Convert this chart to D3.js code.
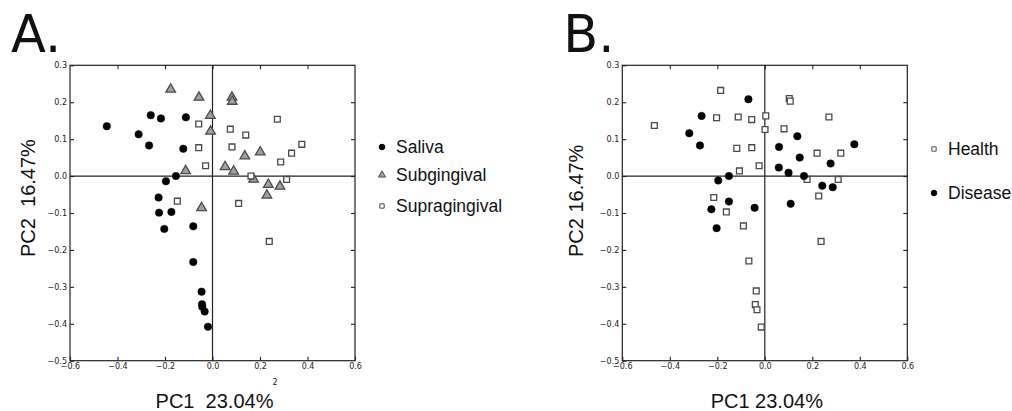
<!DOCTYPE html>
<html>
<head>
<meta charset="utf-8">
<script src="https://cdn.jsdelivr.net/npm/d3@7"></script>
<style>
  body { margin: 0; background: #fff; }
  svg { display: block; }
  .tick text { font-family: "DejaVu Sans", sans-serif; font-size: 8px; fill: #222; }
</style>
</head>
<body>
<div id="chart"></div>
<script>
// tick values shared by both panels
const xTicks = [-0.6, -0.4, -0.2, 0.0, 0.2, 0.4, 0.6];
const yTicks = [-0.5, -0.4, -0.3, -0.2, -0.1, 0.0, 0.1, 0.2, 0.3];

// Panel A -- [PC1, PC2]
const salivaA = [
  [-0.445, 0.135], [-0.26, 0.165], [-0.217, 0.156], [-0.112, 0.159], [-0.311, 0.113],
  [-0.267, 0.083], [-0.123, 0.074], [-0.154, 0.0], [-0.196, -0.014], [-0.227, -0.058],
  [-0.225, -0.099], [-0.173, -0.097], [-0.203, -0.143], [-0.081, -0.136], [-0.081, -0.233],
  [-0.046, -0.313], [-0.044, -0.347], [-0.043, -0.354], [-0.033, -0.367], [-0.019, -0.408]
];
const subgingivalA = [
  [-0.176, 0.235], [-0.057, 0.213], [0.082, 0.213], [0.083, 0.202], [-0.009, 0.164],
  [-0.008, 0.121], [-0.113, 0.014], [0.053, 0.025], [0.089, 0.013], [0.136, 0.054],
  [0.201, 0.065], [0.173, -0.009], [0.235, -0.023], [0.284, -0.028], [0.229, -0.052],
  [-0.046, -0.086]
];
const supragingivalA = [
  [-0.058, 0.141], [-0.058, 0.077], [-0.029, 0.028], [0.075, 0.127], [0.140, 0.111],
  [0.082, 0.079], [0.273, 0.154], [0.287, 0.038], [0.333, 0.062], [0.376, 0.086],
  [0.162, 0.0], [0.312, -0.009], [-0.148, -0.068], [0.110, -0.074], [0.239, -0.177]
];

// Panel B
const healthB = [
  [-0.465, 0.137], [-0.186, 0.232], [-0.203, 0.158], [-0.112, 0.160], [-0.055, 0.153],
  [0.004, 0.163], [0.001, 0.126], [0.103, 0.21], [0.107, 0.203], [0.081, 0.128],
  [0.27, 0.16], [-0.118, 0.075], [-0.055, 0.077], [-0.024, 0.028], [-0.107, 0.014],
  [0.22, 0.062], [0.32, 0.062], [0.178, -0.009], [0.309, -0.009], [0.227, -0.054],
  [-0.215, -0.058], [-0.162, -0.097], [-0.09, -0.135], [-0.067, -0.230], [-0.036, -0.311],
  [-0.04, -0.348], [-0.033, -0.362], [-0.015, -0.409], [0.237, -0.177]
];
const diseaseB = [
  [-0.069, 0.208], [-0.266, 0.163], [-0.318, 0.116], [-0.273, 0.083], [0.137, 0.108],
  [0.06, 0.079], [0.147, 0.05], [0.377, 0.086], [0.277, 0.034], [0.059, 0.023],
  [0.1, 0.009], [0.165, 0.0], [0.242, -0.026], [0.286, -0.03], [-0.151, 0.0],
  [-0.196, -0.012], [-0.151, -0.069], [-0.225, -0.09], [-0.043, -0.086], [0.109, -0.075],
  [-0.203, -0.141]
];

const width = 1012, height = 411;
const svg = d3.select("#chart").append("svg")
  .attr("width", width)
  .attr("height", height);

const fmt = d3.format(".1f");

// marker styles
const styles = {
  circle: { shape: d3.symbolCircle, size: 44, fill: "#000", stroke: "#000", sw: 0.5 },
  triangle: { shape: d3.symbolTriangle, size: 40, fill: "#a0a0a0", stroke: "#4a4a4a", sw: 1.3 },
  square: { shape: d3.symbolSquare, size: 34, fill: "#fff", stroke: "#4a4a4a", sw: 1.3 }
};

function panel(opt) {
  const x = d3.scaleLinear().domain([-0.6, 0.6]).range([opt.left, opt.left + 285]);
  const y = d3.scaleLinear().domain([-0.5, 0.3]).range([360.7, 65.3]);
  const g = svg.append("g");

  // inward ticks, all four sides
  g.append("g")
    .attr("transform", "translate(0,360.7)")
    .call(d3.axisBottom(x).tickValues(xTicks).tickSize(-4).tickPadding(3).tickFormat(fmt))
    .call(a => a.select(".domain").remove());
  g.append("g")
    .attr("transform", "translate(0,65.3)")
    .call(d3.axisTop(x).tickValues(xTicks.slice(1, -1)).tickSize(-4).tickFormat(""))
    .call(a => a.select(".domain").remove());
  g.append("g")
    .attr("transform", "translate(" + x(-0.6) + ",0)")
    .call(d3.axisLeft(y).tickValues(yTicks).tickSize(-4).tickPadding(3).tickFormat(fmt))
    .call(a => a.select(".domain").remove());
  g.append("g")
    .attr("transform", "translate(" + x(0.6) + ",0)")
    .call(d3.axisRight(y).tickValues(yTicks.slice(1, -1)).tickSize(-4).tickFormat(""))
    .call(a => a.select(".domain").remove());
  g.selectAll(".tick line").attr("stroke", "#222").attr("stroke-width", 1.1);

  // frame
  g.append("rect")
    .attr("x", x(-0.6)).attr("y", y(0.3))
    .attr("width", x(0.6) - x(-0.6)).attr("height", y(-0.5) - y(0.3))
    .attr("fill", "none").attr("stroke", "#222").attr("stroke-width", 1.2);

  // zero lines
  g.append("line").attr("x1", x(-0.6)).attr("x2", x(0.6)).attr("y1", y(0)).attr("y2", y(0))
    .attr("stroke", "#222").attr("stroke-width", 1.2);
  g.append("line").attr("x1", x(0)).attr("x2", x(0)).attr("y1", y(0.3)).attr("y2", y(-0.5))
    .attr("stroke", "#222").attr("stroke-width", 1.2);

  // points
  opt.series.forEach(s => {
    const st = styles[s.marker];
    g.append("g").selectAll("path")
      .data(s.data)
      .enter()
      .append("path")
      .attr("transform", d => "translate(" + x(d[0]) + "," + y(d[1]) + ")")
      .attr("d", d3.symbol().type(st.shape).size(st.size))
      .attr("fill", st.fill)
      .attr("stroke", st.stroke)
      .attr("stroke-width", st.sw);
  });

  // legend
  opt.series.forEach((s, i) => {
    const st = styles[s.marker];
    const ly = opt.legendY[i];
    g.append("path")
      .attr("transform", "translate(" + opt.legendX + "," + ly + ")")
      .attr("d", d3.symbol().type(st.shape).size(st.size * 0.55))
      .attr("fill", st.fill)
      .attr("stroke", st.stroke)
      .attr("stroke-width", 1);
    g.append("text")
      .attr("x", opt.legendX + 14).attr("y", ly + 6)
      .attr("font-family", "Liberation Sans, Arial, sans-serif")
      .attr("font-size", 17.5)
      .attr("fill", "#111")
      .text(s.name);
  });

  // panel letter
  g.append("text")
    .attr("x", opt.left - 59).attr("y", 51.7)
    .attr("font-family", "DejaVu Sans, sans-serif")
    .attr("font-size", 51)
    .attr("fill", "#111")
    .text(opt.letter);

  // axis labels
  g.append("text")
    .attr("x", x(0) + 2).attr("y", 408)
    .attr("text-anchor", "middle")
    .attr("font-family", "Liberation Sans, Arial, sans-serif")
    .attr("font-size", 20)
    .attr("fill", "#111")
    .attr("xml:space", "preserve")
    .text(opt.xLabel);
  g.append("text")
    .attr("transform", "translate(" + (opt.left - opt.yLabelOff) + ",257) rotate(-90)")
    .attr("font-family", "Liberation Sans, Arial, sans-serif")
    .attr("font-size", 20)
    .attr("fill", "#111")
    .attr("xml:space", "preserve")
    .text(opt.yLabel);

  return { g: g, x: x, y: y };
}

const pA = panel({
  left: 70, letter: "A.", yLabelOff: 35,
  xLabel: "PC1  23.04%", yLabel: "PC2  16.47%",
  series: [
    { name: "Saliva", marker: "circle", data: salivaA },
    { name: "Subgingival", marker: "triangle", data: subgingivalA },
    { name: "Supragingival", marker: "square", data: supragingivalA }
  ],
  legendX: 382, legendY: [147, 175, 206]
});
// stray "2" under the A x axis
pA.g.append("text")
  .attr("x", 275).attr("y", 385)
  .attr("text-anchor", "middle")
  .attr("font-family", "DejaVu Sans, sans-serif")
  .attr("font-size", 8)
  .attr("fill", "#222")
  .text("2");

panel({
  left: 622.3, letter: "B.", yLabelOff: 39,
  xLabel: "PC1 23.04%", yLabel: "PC2 16.47%",
  series: [
    { name: "Health", marker: "square", data: healthB },
    { name: "Disease", marker: "circle", data: diseaseB }
  ],
  legendX: 934, legendY: [149, 193]
});
</script>
</body>
</html>
